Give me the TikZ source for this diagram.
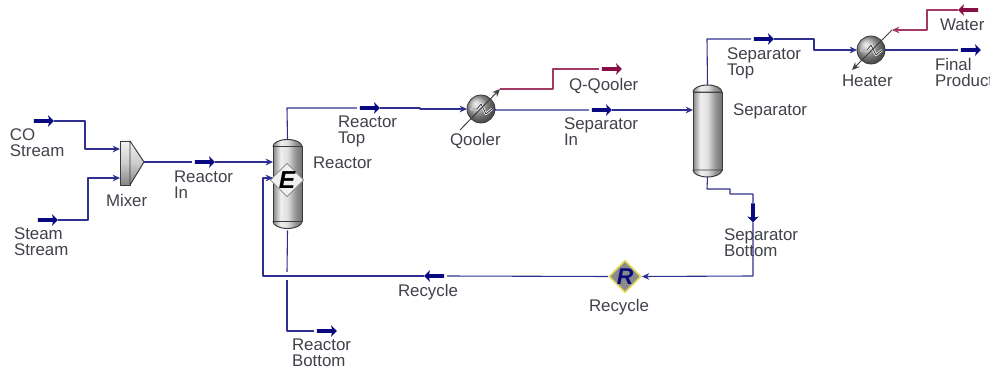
\documentclass[tikz,border=0pt]{standalone}
\usepackage{fontspec}
\setmainfont{Liberation Sans}
\usepackage{tikz}
\usetikzlibrary{arrows.meta,calc,shapes.geometric,shapes.arrows}
\definecolor{StreamNavy}{HTML}{2F2F90}
\definecolor{TagNavy}{HTML}{0A0A80}
\definecolor{EnergyWine}{HTML}{A03A64}
\definecolor{TagWine}{HTML}{860F45}
\definecolor{LabelInk}{HTML}{41424A}
\definecolor{VesselEdge}{HTML}{3A3A3A}
\definecolor{RecycleGrey}{HTML}{8A8A8A}
\definecolor{RecycleGold}{HTML}{E2DC5A}
\pgfdeclarehorizontalshading{vesselshade}{100bp}{
  color(0bp)=(gray!95);color(25bp)=(gray!95);color(38bp)=(gray!12);
  color(50bp)=(gray!25);color(64bp)=(gray!85);color(75bp)=(gray!110);color(100bp)=(gray!110)}
\pgfdeclareverticalshading{mixershade}{100bp}{
  color(0bp)=(gray!95);color(25bp)=(gray!95);color(50bp)=(gray!40);
  color(75bp)=(gray!10);color(100bp)=(gray!10)}

\begin{document}
\begin{tikzpicture}[
  x=0.02cm,y=-0.02cm,
  >=Stealth,
  line join=round,
  every node/.style={font=\fontsize{9.6}{9.2}\selectfont,text=LabelInk},
  tag/.style={anchor=north west,inner sep=0pt,outer sep=0pt,align=left},
  stream/.style={StreamNavy,line width=.62pt},
  streamin/.style={stream,-{Stealth[length=4.2pt,width=3.8pt]}},
  energy/.style={EnergyWine,line width=.62pt},
  energyin/.style={energy,-{Stealth[length=4.2pt,width=3.8pt]}},
  flaggap/.style={shorten >=1.7pt},
  streamflag/.style={single arrow,fill=TagNavy,inner sep=.85pt,outer sep=0pt,
    minimum height=.4cm,minimum width=6.4pt,single arrow head extend=2.3pt,
    single arrow head indent=.5pt},
  energyflag/.style={streamflag,fill=TagWine},
  vessel/.style={draw=VesselEdge,line width=.55pt,shading=vesselshade,
    minimum width=.58cm,inner sep=0pt,outer sep=0pt},
  exchanger/.style={circle,draw=VesselEdge,line width=.45pt,ball color=gray!65,
    minimum size=.56cm,inner sep=0pt,outer sep=0pt},
  utility/.style={black!75,line width=.55pt,-{Stealth[length=4.4pt,width=3.8pt]}}
]
  \useasboundingbox (0,0) rectangle (990,367);

  \node[streamflag] (coflag) at (43,121) {};
  \node[streamflag] (steamflag) at (47,220) {};
  \node[streamflag] (reactorinflag) at (204,162) {};
  \node[streamflag] (reactortopflag) at (369,108) {};
  \node[streamflag] (bottomflag) at (326,331) {};
  \node[streamflag] (separatorinflag) at (601,110) {};
  \node[streamflag] (separatortopflag) at (763,39) {};
  \node[streamflag] (productflag) at (970,50) {};
  \node[streamflag,shape border rotate=180] (recycleflag) at (435,276) {};
  \node[streamflag,shape border rotate=270,minimum height=.38cm] (sepbottomflag) at (753,212) {};
  \node[energyflag] (qoolerflag) at (611,69) {};
  \node[energyflag,shape border rotate=180] (waterflag) at (969,10) {};

  \node[vessel,minimum height=1.5cm] (reactor) at (287.5,184) {};
  \node[vessel,minimum height=1.56cm] (separator) at (707.5,131) {};
  \foreach \drum in {reactor,separator}{
    \path[draw=VesselEdge,line width=.55pt,shading=vesselshade]
      (\drum.north west) arc [start angle=180,end angle=0,x radius=.29cm,y radius=.14cm] -- cycle;
    \path[draw=VesselEdge,line width=.55pt,shading=vesselshade]
      (\drum.south west) arc [start angle=180,end angle=360,x radius=.29cm,y radius=.14cm] -- cycle;
  }
  \coordinate (reactortop) at ($(reactor.north)+(0,-7)$);
  \coordinate (reactorbottom) at ($(reactor.south)+(0,9)$);
  \coordinate (separatortop) at ($(separator.north)+(0,-7)$);
  \coordinate (separatorbottom) at ($(separator.south)+(0,7)$);

  \node[diamond,draw=black!50,fill=black!6,inner sep=0pt,minimum width=.54cm,minimum height=.6cm,
    font=\fontsize{14}{14}\selectfont\bfseries\itshape,text=black] (reactorbadge) at (287,180) {E};
  \node[diamond,draw=RecycleGold,line width=.9pt,fill=RecycleGrey,inner sep=0pt,
    minimum width=.54cm,minimum height=.54cm,
    font=\fontsize{13}{13}\selectfont\bfseries\itshape,text=TagNavy] (recycle) at (625,276.5) {R};

  \node[inner sep=0pt,outer sep=0pt,minimum width=.2cm,minimum height=.88cm,
    draw=VesselEdge,line width=.55pt,shading=mixershade] (mixerbody) at (125,163) {};
  \coordinate (mixertip) at (144,162);
  \path[draw=VesselEdge,line width=.55pt,shading=mixershade]
    (mixerbody.north east) -- (mixertip) -- (mixerbody.south east) -- cycle;
  \coordinate (mixerupper) at (mixerbody.west |- 0,149);
  \coordinate (mixerlower) at (mixerbody.west |- 0,178);
  \coordinate (reactorupper) at (reactor.west |- 0,162);
  \coordinate (reactorlower) at (reactor.west |- 0,178);
  \coordinate (separatorfeed) at (separator.west |- 0,110);

  \node[exchanger] (qooler) at (481,109) {};
  \node[exchanger] (heater) at (871,50) {};
  \foreach \unit in {qooler,heater}{
    \draw[white,line width=1.3pt]
      ($(\unit.center)+(-11,0)$) -- ($(\unit.center)+(-4,0)$) -- ($(\unit.center)+(0,-5)$)
      -- ($(\unit.center)+(5,5)$) -- ($(\unit.center)+(11,0)$);
    \draw[black!80,line width=.45pt]
      ($(\unit.center)+(-11,0)$) -- ($(\unit.center)+(-4,0)$) -- ($(\unit.center)+(0,-5)$)
      -- ($(\unit.center)+(5,5)$) -- ($(\unit.center)+(11,0)$);
  }
  \coordinate (qoolerhot) at (460,130);
  \coordinate (qoolercold) at (500,89);
  \coordinate (heaterhot) at (892,30);
  \coordinate (heatercold) at (852,70);
  \draw[utility] (qoolerhot) -- (qoolercold);
  \draw[utility] (heaterhot) -- (heatercold);

  \draw[streamin] (coflag.east) -- (85,121) -- (85,149) -- (mixerupper);
  \draw[streamin] (steamflag.east) -- (88,220) -- (88,178) -- (mixerlower);
  \draw[stream,flaggap] (mixertip) -- (reactorinflag.west);
  \draw[streamin] (reactorinflag.east) -- (reactorupper);
  \draw[stream,flaggap] (reactortop) -- (287,108) -- (reactortopflag.west);
  \draw[streamin] (reactortopflag.east) -- (420,108) -- (420,109) -- (qooler.west);
  \draw[stream] (reactorbottom) -- (287,272);
  \draw[stream,flaggap] (287,280) -- (287,331) -- (bottomflag.west);
  \draw[stream,flaggap] (qooler.east) -- (495,110) -- (separatorinflag.west);
  \draw[streamin] (separatorinflag.east) -- (separatorfeed);
  \draw[stream,flaggap] (separatortop) -- (707,39) -- (separatortopflag.west);
  \draw[streamin] (separatortopflag.east) -- (814,39) -- (814,50) -- (heater.west);
  \draw[stream,flaggap] (heater.east) -- (productflag.west);
  \draw[stream] (separatorbottom) -- (707,189) -- (730,189) -- (730,194) -- (753,194)
    -- (sepbottomflag.north);
  \draw[streamin] (sepbottomflag.south) -- (753,276) -- (recycle.east);
  \draw[stream,flaggap] (recycle.west) -- (recycleflag.east);
  \draw[streamin] (recycleflag.west) -- (263,276) -- (263,178) -- (reactorlower);
  \draw[energy,flaggap] (qoolercold) -- (553,89) -- (553,69) -- (qoolerflag.west);
  \draw[energyin] (waterflag.west) -- (927,10) -- (927,30) -- (heaterhot);

  \node[tag] (colabel) at (10,129) {CO\\Stream};
  \node[tag] (steamlabel) at (14,228) {Steam\\Stream};
  \node[tag] (mixerlabel) at (106,194) {Mixer};
  \node[tag] (reactorinlabel) at (174,171) {Reactor\\In};
  \node[tag] (reactorlabel) at (313,157) {Reactor};
  \node[tag] (reactortoplabel) at (338,116) {Reactor\\Top};
  \node[tag] (bottomlabel) at (292,339) {Reactor\\Bottom};
  \node[tag] (recyclestreamlabel) at (398,284) {Recycle};
  \node[tag] (recyclelabel) at (589,299) {Recycle};
  \node[tag] (qoolerlabel) at (450,133) {Qooler};
  \node[tag] (qqoolerlabel) at (569,78) {Q-Qooler};
  \node[tag] (separatorinlabel) at (564,118) {Separator\\In};
  \node[tag] (separatorlabel) at (733,104) {Separator};
  \node[tag] (separatortoplabel) at (727,48) {Separator\\Top};
  \node[tag] (sepbottomlabel) at (724,229) {Separator\\Bottom};
  \node[tag] (heaterlabel) at (842,75) {Heater};
  \node[tag] (waterlabel) at (940,19) {Water};
  \node[tag] (productlabel) at (935,58) {Final\\Product};
\end{tikzpicture}
\end{document}
